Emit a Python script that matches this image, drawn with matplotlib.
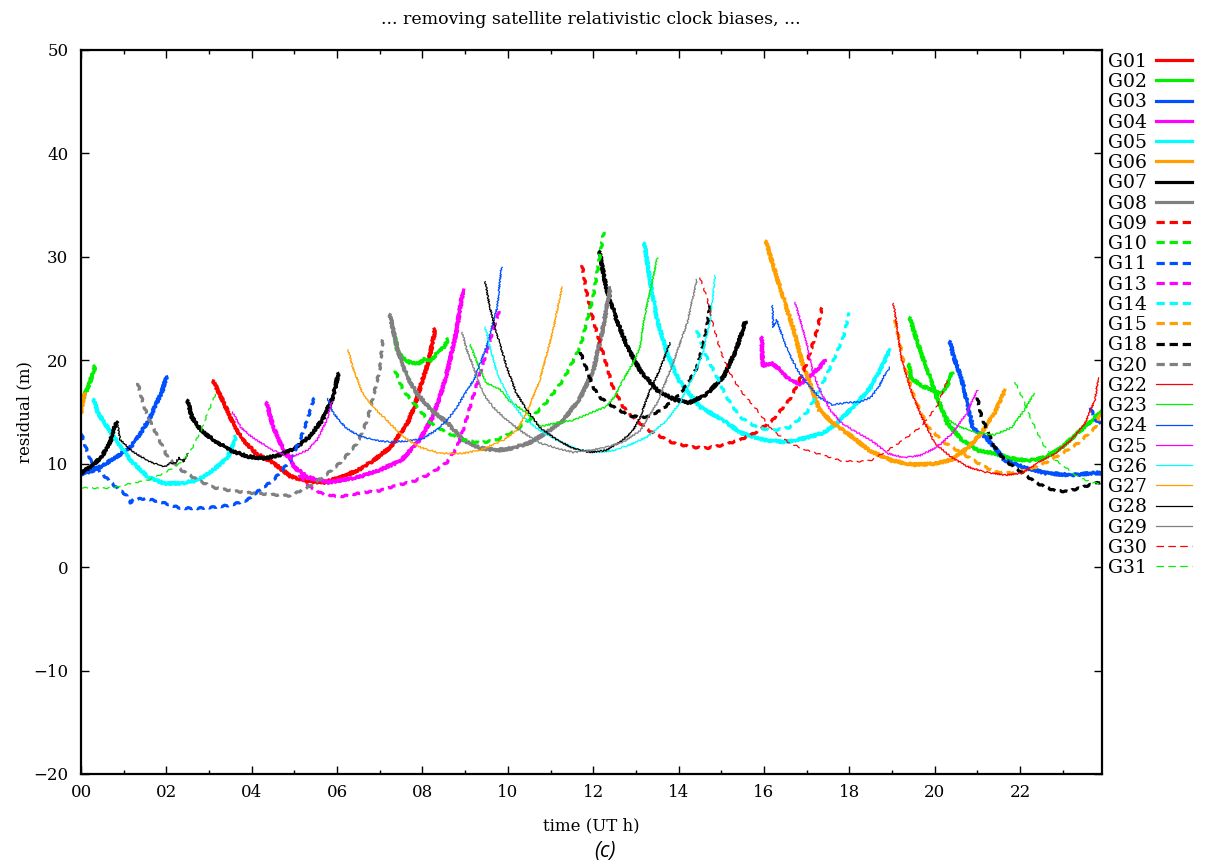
import matplotlib
matplotlib.use("Agg")
import matplotlib.pyplot as plt
from matplotlib.lines import Line2D

# residual arcs per satellite: lists of (time UT h, residual m)
g01 = [[(3.1, 18.0), (3.3, 16.3), (3.5, 14.5), (3.75, 12.5), (4.1, 11.0), (4.5, 10.1), (4.9, 8.8),
        (5.3, 8.3), (5.7, 8.2), (6.1, 8.7), (6.5, 9.4), (6.85, 10.3), (7.25, 11.6), (7.65, 13.9),
        (7.85, 16.0), (8.0, 18.1), (8.15, 20.0), (8.3, 23.0)]]
g02 = [[(0.05, 16.3), (0.12, 17.0), (0.2, 17.8), (0.28, 18.8), (0.33, 19.4)],
       [(7.36, 22.3), (7.42, 20.8), (7.55, 20.2), (7.7, 19.8), (7.9, 19.7), (8.05, 20.1), (8.2, 20.0),
        (8.35, 20.7), (8.5, 21.3), (8.6, 22.0)],
       [(19.4, 19.6), (19.45, 18.2), (19.55, 18.0), (19.7, 17.5), (19.85, 17.3), (20.0, 17.0),
        (20.15, 16.8), (20.3, 17.6), (20.4, 18.8)],
       [(19.42, 24.1), (19.6, 21.7), (19.85, 18.8), (20.08, 16.2), (20.3, 13.9), (20.64, 12.3),
        (21.0, 11.3), (21.4, 11.0), (21.8, 10.5), (22.2, 10.3), (22.6, 10.6), (22.98, 11.6),
        (23.36, 13.0), (23.76, 14.5), (23.92, 15.0)]]
g03 = [[(0.0, 9.0), (0.25, 9.3), (0.5, 9.8), (0.95, 11.0), (1.2, 11.8), (1.4, 13.0), (1.6, 14.3),
        (1.75, 15.7), (1.9, 17.0), (2.0, 18.4)],
       [(20.36, 21.8), (20.45, 20.3), (20.64, 18.1), (20.78, 15.5), (20.9, 13.4), (21.18, 12.6),
        (21.4, 11.6), (21.65, 10.3), (22.05, 9.7), (22.6, 9.1), (23.2, 8.9), (23.76, 9.1), (23.92, 9.1)]]
g04 = [[(4.35, 15.9), (4.5, 13.6), (4.75, 11.3), (5.0, 9.7), (5.3, 8.7), (5.8, 8.2), (6.5, 8.7),
        (7.0, 9.4), (7.5, 10.3), (7.95, 12.4), (8.25, 14.6), (8.45, 17.0), (8.6, 19.2), (8.8, 22.9),
        (8.95, 26.8)],
       [(15.95, 22.2), (15.97, 19.5), (16.2, 19.7), (16.4, 19.0), (16.6, 18.1), (16.85, 17.7),
        (17.0, 18.2), (17.15, 18.8), (17.3, 19.3), (17.43, 20.0)]]
g05 = [[(0.3, 16.2), (0.4, 14.9), (0.77, 12.6), (1.17, 10.3), (1.57, 8.7), (1.95, 8.1), (2.34, 8.1),
        (2.74, 8.4), (3.1, 9.4), (3.44, 10.6), (3.63, 12.6)],
       [(13.2, 31.3), (13.33, 27.8), (13.5, 23.9), (13.73, 20.7), (14.0, 18.1), (14.5, 15.5),
        (15.05, 14.2), (15.45, 13.0), (16.0, 12.3), (16.5, 12.1), (17.0, 12.5), (17.4, 13.0),
        (17.7, 13.9), (18.1, 15.5), (18.5, 17.4), (18.8, 19.7), (18.95, 21.0)]]
g06 = [[(0.0, 14.9), (0.07, 16.8)],
       [(16.05, 31.5), (16.2, 29.4), (16.45, 26.1), (16.7, 22.9), (16.9, 19.7), (17.1, 17.5),
        (17.3, 15.2), (17.6, 14.0), (18.0, 12.8), (18.5, 11.2), (19.0, 10.3), (19.5, 9.9), (20.0, 10.0),
        (20.4, 10.4), (20.8, 11.6), (21.1, 13.0), (21.4, 14.9), (21.65, 17.1)]]
g07 = [[(0.0, 9.1), (0.25, 9.8), (0.47, 10.6), (0.6, 11.5), (0.7, 12.3), (0.77, 13.5), (0.85, 14.0)],
       [(2.5, 16.1), (2.6, 14.5), (2.8, 13.3), (3.1, 12.3), (3.5, 11.3), (3.9, 10.7), (4.3, 10.5),
        (4.7, 10.9), (5.05, 11.6), (5.35, 12.6), (5.65, 14.2), (5.9, 16.4), (6.03, 18.7)],
       [(12.15, 30.5), (12.3, 27.1), (12.55, 23.9), (12.8, 21.3), (13.1, 19.0), (13.5, 17.1),
        (13.9, 16.2), (14.25, 15.9), (14.65, 16.7), (15.05, 18.4), (15.35, 21.0), (15.56, 23.7)]]
g08 = [[(7.24, 24.4), (7.4, 21.3), (7.64, 18.4), (7.87, 16.8), (8.2, 15.2), (8.6, 13.9), (8.95, 12.3),
        (9.35, 11.5), (9.75, 11.3), (10.1, 11.5), (10.5, 12.0), (10.9, 13.0), (11.3, 14.2),
        (11.7, 16.4), (12.0, 19.0), (12.2, 22.5), (12.4, 27.0)]]
g09 = [[(11.74, 29.2), (11.85, 26.5), (12.0, 23.9), (12.23, 20.7), (12.46, 17.4), (12.7, 15.5),
        (12.95, 14.4), (13.3, 13.2), (13.87, 12.0), (14.3, 11.6), (14.66, 11.5), (15.05, 11.8),
        (15.44, 12.3), (15.8, 13.0), (16.2, 14.2), (16.6, 16.2), (16.8, 17.8), (17.0, 19.7),
        (17.24, 22.9), (17.36, 25.1)]]
g10 = [[(7.36, 19.0), (7.55, 17.1), (7.87, 15.5), (8.2, 13.9), (8.57, 13.0), (8.95, 12.3), (9.35, 12.0),
        (9.75, 12.3), (10.1, 13.0), (10.5, 14.2), (10.9, 15.9), (11.3, 18.1), (11.7, 21.3),
        (12.0, 26.1), (12.25, 32.4)]]
g11 = [[(0.0, 13.0), (0.12, 11.5), (0.23, 10.3), (0.45, 9.2), (0.65, 8.4), (0.85, 7.6), (1.05, 7.0),
        (1.15, 6.2), (1.25, 6.6), (1.57, 6.6), (1.95, 6.2), (2.34, 5.7), (2.74, 5.7), (3.1, 5.8),
        (3.5, 6.0), (3.9, 6.5), (4.1, 7.2), (4.5, 8.4), (4.9, 10.3), (5.13, 12.3), (5.3, 14.2),
        (5.48, 16.6)],
       [(23.65, 15.4), (23.78, 14.2), (23.92, 13.8)]]
g13 = [[(4.85, 11.0), (5.1, 9.0), (5.35, 7.8), (5.65, 7.1), (6.05, 6.8), (6.6, 7.2), (7.0, 7.4),
        (7.4, 7.9), (7.8, 8.3), (8.18, 9.0), (8.57, 10.1), (8.8, 11.5), (8.95, 13.2), (9.18, 16.4),
        (9.42, 19.7), (9.65, 22.9), (9.82, 25.1)]]
g14 = [[(14.43, 22.9), (14.66, 20.3), (14.9, 18.4), (15.13, 16.4), (15.44, 14.5), (15.84, 13.5),
        (16.2, 13.2), (16.6, 13.5), (17.0, 14.9), (17.3, 17.1), (17.6, 19.7), (17.86, 22.2),
        (18.0, 24.6)]]
g15 = [[(19.07, 23.9), (19.3, 19.3), (19.54, 16.2), (19.85, 13.5), (20.24, 12.0), (20.64, 11.0),
        (21.0, 10.1), (21.4, 9.2), (21.8, 9.1), (22.2, 9.4), (22.6, 10.1), (22.98, 11.0),
        (23.36, 12.0), (23.76, 13.5), (23.88, 14.9)]]
g18 = [[(11.7, 20.8), (11.85, 19.1), (12.0, 17.4), (12.16, 16.4), (12.47, 15.5), (12.86, 14.6),
        (13.26, 14.5), (13.6, 15.2), (14.03, 16.7), (14.25, 18.0), (14.43, 19.3), (14.58, 21.5),
        (14.66, 23.0), (14.74, 25.3)],
       [(21.0, 16.4), (21.1, 14.5), (21.26, 13.0), (21.4, 11.6), (21.65, 10.3), (22.05, 9.1),
        (22.4, 8.1), (22.8, 7.4), (23.1, 7.3), (23.45, 7.7), (23.76, 8.1), (23.88, 8.2)]]
g20 = [[(1.33, 17.8), (1.48, 15.5), (1.64, 13.9), (1.87, 12.0), (2.03, 10.6), (2.34, 9.4), (2.74, 8.4),
        (3.1, 7.7), (3.5, 7.4), (3.9, 7.2), (4.5, 7.0), (4.9, 6.9), (5.3, 7.7), (5.67, 8.7),
        (6.07, 10.1), (6.47, 12.0), (6.7, 14.2), (6.84, 16.4), (7.0, 19.1), (7.07, 22.0)]]
g22 = [[(19.03, 25.5), (19.07, 24.6), (19.23, 20.0), (19.47, 16.8), (19.7, 14.5), (20.0, 12.0),
        (20.4, 10.6), (20.78, 9.7), (21.18, 9.2), (21.65, 8.9), (22.05, 9.1), (22.42, 10.1),
        (22.82, 11.0), (23.2, 12.3), (23.52, 13.9), (23.76, 16.2), (23.83, 18.3)]]
g23 = [[(9.12, 21.5), (9.35, 19.1), (9.5, 17.8), (9.82, 17.2), (10.0, 16.2), (10.45, 14.9),
        (10.75, 13.6), (11.1, 13.9), (11.53, 14.2), (11.93, 14.9), (12.3, 15.5), (12.5, 16.5),
        (12.7, 18.1), (12.93, 19.7), (13.1, 21.3), (13.2, 24.2), (13.35, 27.0), (13.5, 29.9)],
       [(20.0, 16.5), (20.2, 15.0), (20.4, 14.0), (20.64, 13.5), (21.0, 13.0), (21.4, 12.8),
        (21.8, 13.5), (22.1, 15.2), (22.33, 16.8)]]
g24 = [[(5.78, 16.3), (5.9, 15.0), (6.05, 14.2), (6.2, 13.5), (6.47, 12.8), (6.84, 12.3), (7.24, 12.1),
        (7.64, 12.2), (8.0, 12.4), (8.34, 13.3), (8.6, 14.3), (8.81, 15.5), (9.0, 16.8), (9.2, 18.1),
        (9.5, 21.3), (9.75, 25.1), (9.85, 29.0)],
       [(16.2, 25.3), (16.22, 23.2), (16.3, 23.9), (16.55, 21.0), (16.78, 19.1), (17.0, 17.8),
        (17.3, 16.4), (17.6, 15.7), (17.95, 15.9), (18.25, 16.0), (18.5, 16.4), (18.7, 17.5),
        (18.8, 18.4), (18.95, 19.3)]]
g25 = [[(3.55, 15.0), (3.75, 13.5), (4.0, 12.6), (4.5, 11.3), (4.9, 10.6), (5.3, 11.3), (5.53, 12.3),
        (5.76, 14.2), (5.88, 16.0)],
       [(16.73, 25.6), (16.85, 23.9), (17.0, 21.7), (17.15, 18.8), (17.3, 17.2), (17.55, 15.2),
        (17.8, 14.0), (18.1, 13.2), (18.5, 12.3), (18.9, 11.0), (19.27, 10.6), (19.66, 10.8),
        (20.05, 11.6), (20.43, 13.0), (20.75, 14.9), (21.0, 17.1)]]
g26 = [[(9.47, 23.2), (9.58, 21.3), (9.75, 18.8), (9.9, 17.4), (10.1, 15.9), (10.36, 14.5),
        (10.75, 13.2), (11.3, 12.0), (11.7, 11.3), (12.1, 11.1), (12.5, 11.3), (12.9, 11.9),
        (13.26, 12.6), (13.73, 14.2), (14.03, 15.9), (14.34, 18.4), (14.57, 20.7), (14.74, 23.9),
        (14.86, 28.2)]]
g27 = [[(6.26, 21.0), (6.37, 19.3), (6.6, 16.8), (6.84, 15.5), (7.17, 14.2), (7.55, 12.6), (7.94, 11.6),
        (8.41, 11.0), (8.95, 11.0), (9.35, 11.3), (9.9, 12.3), (10.2, 13.2), (10.45, 15.0),
        (10.75, 18.1), (11.06, 22.9), (11.27, 27.1)]]
g28 = [[(0.85, 14.0), (0.92, 12.3), (1.0, 12.0), (1.17, 11.3), (1.4, 10.7), (1.57, 10.3), (1.8, 9.9),
        (1.95, 9.7), (2.1, 10.1), (2.2, 10.0), (2.3, 10.6), (2.4, 10.2), (2.5, 11.0)],
       [(9.47, 27.6), (9.58, 25.1), (9.74, 22.6), (9.98, 19.3), (10.2, 16.8), (10.45, 15.2),
        (10.75, 13.5), (11.15, 12.3), (11.53, 11.5), (11.93, 11.1), (12.3, 11.3), (12.7, 12.3),
        (12.93, 13.2), (13.1, 14.5), (13.33, 17.1), (13.56, 19.1), (13.8, 21.7)]]
g29 = [[(8.93, 22.7), (9.04, 21.0), (9.2, 19.3), (9.42, 16.8), (9.65, 15.5), (9.98, 14.2), (10.36, 13.0),
        (10.75, 12.0), (11.15, 11.5), (11.53, 11.1), (11.93, 11.3), (12.3, 11.6), (12.7, 12.1),
        (13.1, 13.2), (13.5, 15.9), (13.87, 19.7), (14.2, 23.6), (14.43, 27.8)]]
g30 = [[(14.5, 28.0), (14.66, 26.1), (14.8, 23.6), (14.97, 21.0), (15.2, 18.8), (15.44, 17.1),
        (15.84, 15.2), (16.2, 13.2), (16.6, 12.0), (17.0, 11.3), (17.4, 10.8), (17.8, 10.3),
        (18.2, 10.2), (18.5, 10.3), (18.9, 11.3), (19.27, 12.3), (19.65, 13.5), (20.05, 15.5),
        (20.3, 18.1)]]
g31 = [[(0.0, 7.7), (0.47, 7.6), (0.77, 7.7), (1.17, 8.1), (1.57, 8.4), (1.95, 9.1), (2.34, 10.1),
        (2.58, 11.3), (2.81, 13.2), (2.97, 14.9), (3.16, 16.8)],
       [(21.88, 17.9), (22.05, 16.4), (22.2, 14.9), (22.35, 13.5), (22.52, 12.0), (22.75, 10.6),
        (23.05, 9.7), (23.36, 8.7), (23.68, 8.2), (23.88, 8.1)]]

sats = ['G01', 'G02', 'G03', 'G04', 'G05', 'G06', 'G07', 'G08', 'G09', 'G10', 'G11', 'G13', 'G14',
        'G15', 'G18', 'G20', 'G22', 'G23', 'G24', 'G25', 'G26', 'G27', 'G28', 'G29', 'G30', 'G31']
arcs = [g01, g02, g03, g04, g05, g06, g07, g08, g09, g10, g11, g13, g14,
        g15, g18, g20, g22, g23, g24, g25, g26, g27, g28, g29, g30, g31]

palette = ['#ff0000', '#00f000', '#0050ff', '#ff00ff', '#00ffff', '#ffa000', '#000000', '#808080']
thick, thin = 2.3, 0.9
styles = []
for i in range(8):
    styles.append(dict(color=palette[i], lw=thick, ls='-'))
for i in range(8):
    styles.append(dict(color=palette[i], lw=thick, ls=(0, (2.6, 1.5))))
for i in range(8):
    styles.append(dict(color=palette[i], lw=thin, ls='-'))
for i in range(2):
    styles.append(dict(color=palette[i], lw=thin, ls=(0, (6.0, 3.5))))

plt.rcParams['font.family'] = 'DejaVu Serif'
plt.rcParams['axes.unicode_minus'] = True

fig = plt.figure(figsize=(12.1, 8.68), dpi=100)
ax = fig.add_axes([81 / 1210, 1 - 774 / 868, (1102 - 81) / 1210, (774 - 50) / 868])

for name, sat_arcs, st in zip(sats, arcs, styles):
    for arc in sat_arcs:
        t = [p[0] for p in arc]
        r = [p[1] for p in arc]
        ln, = ax.plot(t, r, color=st['color'], lw=st['lw'], linestyle=st['ls'],
                      solid_joinstyle='round')
        if st['ls'] == '-':
            ln.set_sketch_params(scale=1.2 if st['lw'] > 1 else 0.8, length=3, randomness=2)
        else:
            ln.set_sketch_params(scale=0.6, length=6, randomness=1)

ax.set_xlim(0, 23.92)
ax.set_ylim(-20, 50)
ax.set_xticks(range(0, 24, 2))
ax.set_xticklabels(['%02d' % h for h in range(0, 24, 2)])
ax.set_xticks(range(1, 24, 2), minor=True)
ax.set_yticks(range(-20, 51, 10))
ax.tick_params(which='both', direction='in', top=True, right=True, labelsize=12)
ax.tick_params(which='major', length=6, width=1.0)
ax.tick_params(which='minor', length=3, width=1.0)
ax.tick_params(axis='y', pad=9)
ax.tick_params(axis='x', pad=7)
for sp in ax.spines.values():
    sp.set_linewidth(1.6)

handles = [Line2D([], [], color=st['color'], lw=st['lw'], linestyle=st['ls']) for st in styles]
ax.legend(handles, sats, loc='upper left', bbox_to_anchor=(1.003, 1.0), frameon=False,
          markerfirst=False, fontsize=13.5, handlelength=1.9, handletextpad=0.5,
          labelspacing=0.12, borderpad=0.15, borderaxespad=0)

fig.text(591 / 1210, 1 - 19 / 868, '... removing satellite relativistic clock biases, ...',
         ha='center', va='center', fontsize=12.5)
fig.text(591 / 1210, 1 - 826 / 868, 'time (UT h)', ha='center', va='center', fontsize=12)
fig.text(25 / 1210, 1 - 412 / 868, 'residual (m)', ha='center', va='center', rotation=90, fontsize=12)
fig.text(605 / 1210, 1 - 852 / 868, '(c)', ha='center', va='center', fontsize=15,
         family='Open Sans', style='italic')

fig.savefig('out.png', dpi=100)
